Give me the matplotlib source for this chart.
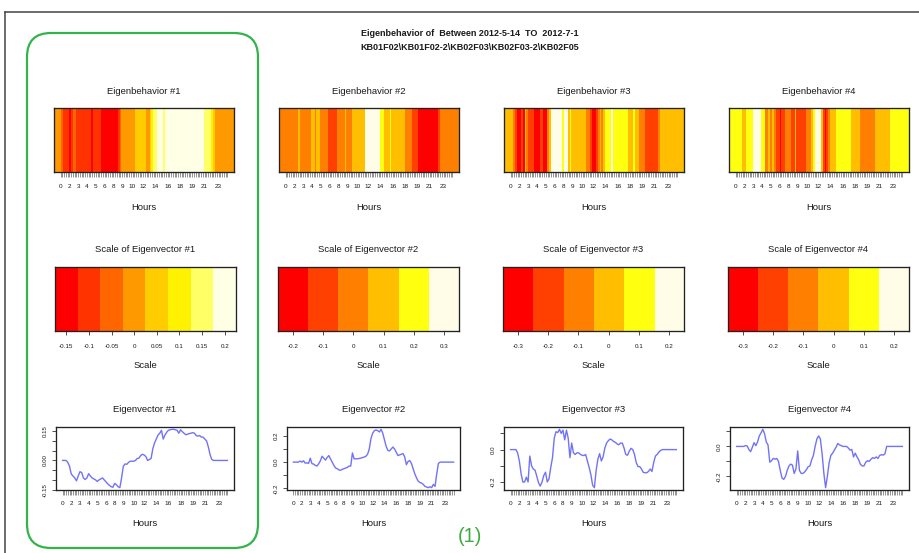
import numpy as np
import matplotlib
matplotlib.use('Agg')
import matplotlib.pyplot as plt
from matplotlib.colors import ListedColormap
from matplotlib.patches import FancyBboxPatch
from matplotlib.lines import Line2D

plt.rcParams['font.family'] = ['Liberation Sans', 'DejaVu Sans']

# ---------------- data ----------------
ev1 = [0.000, 0.000, 0.000, -0.010, -0.030, -0.070, -0.080, -0.090, -0.105, -0.080,
       -0.058, -0.062, -0.090, -0.098, -0.090, -0.068, -0.080, -0.090, -0.095, -0.100,
       -0.108, -0.100, -0.095, -0.090, -0.100, -0.110, -0.120, -0.128, -0.135, -0.138,
       -0.118, -0.125, -0.135, -0.140, -0.090, -0.030, -0.018, -0.020, -0.010, -0.004,
       -0.004, -0.004, 0.000, 0.010, 0.012, 0.025, 0.032, 0.028, 0.020, 0.000,
       0.005, 0.010, 0.060, 0.090, 0.110, 0.130, 0.140, 0.155, 0.110, 0.130,
       0.145, 0.155, 0.158, 0.160, 0.160, 0.158, 0.155, 0.140, 0.158, 0.148,
       0.140, 0.132, 0.135, 0.138, 0.140, 0.143, 0.140, 0.128, 0.125, 0.128,
       0.120, 0.120, 0.110, 0.100, 0.070, 0.030, 0.005, 0.000, 0.000, 0.000,
       0.000, 0.000, 0.000, 0.000, 0.000, 0.000]
ev2 = [0, 0, 0, 0, 0.008, 0, 0.01, -0.008, -0.005, -0.01,
       0.03, -0.012, -0.015, -0.025, -0.03, -0.012, 0.01, 0.045, 0.03, 0.015,
       0.035, 0.05, 0.025, 0, -0.025, -0.045, -0.05, -0.06, -0.062, -0.055,
       -0.05, -0.045, -0.04, -0.03, -0.03, 0.07, 0.025, 0.025, 0.025, 0.028,
       0.03, 0.035, 0.038, 0.045, 0.06, 0.1, 0.18, 0.22, 0.24, 0.245,
       0.24, 0.23, 0.25, 0.22, 0.17, 0.12, 0.09, 0.085, 0.1, 0.115,
       0.1, 0.075, 0.05, 0.055, 0.06, 0.065, 0.04, -0.02, 0.005, 0.012,
       -0.01, -0.05, -0.09, -0.12, -0.145, -0.155, -0.16, -0.17, -0.185, -0.19,
       -0.195, -0.188, -0.195, -0.17, -0.185, -0.09, -0.01, 0, 0, 0,
       0, 0, 0, 0, 0, 0]
ev3 = [0, 0, 0, 0, -0.02, -0.07, -0.15, -0.2, -0.2, -0.17,
       -0.2, -0.04, -0.1, -0.12, -0.127, -0.165, -0.205, -0.225, -0.2, -0.16,
       -0.14, -0.2, -0.18, -0.11, -0.05, 0.07, 0.11, 0.105, 0.125, 0.1,
       0.12, 0.06, 0.12, 0.07, -0.05, 0.04, -0.02, -0.03, -0.02, -0.02,
       -0.03, -0.035, -0.037, -0.03, -0.07, -0.11, -0.155, -0.22, -0.235, -0.13,
       -0.06, -0.025, -0.07, -0.045, 0.01, 0.04, 0.055, 0.065, 0.06, 0.05,
       0.045, 0.035, 0.03, 0.04, 0.04, 0.01, -0.03, -0.035, -0.01, 0.008,
       0, -0.03, -0.08, -0.105, -0.105, -0.12, -0.14, -0.143, -0.143, -0.135,
       -0.12, -0.135, -0.08, -0.04, -0.03, -0.015, -0.005, 0, 0, 0,
       0, 0, 0, 0, 0, 0]
ev4 = [0, 0, 0, 0, 0, 0.005, 0.004, -0.02, -0.035, -0.006,
       0.025, 0.005, 0.03, 0.07, 0.09, 0.114, 0.085, 0.03, 0.009, -0.105,
       -0.095, -0.08, -0.085, -0.08, -0.1, -0.16, -0.21, -0.22, -0.2, -0.16,
       -0.13, -0.118, -0.125, -0.18, -0.15, -0.03, -0.16, -0.18, -0.18, -0.17,
       -0.155, -0.135, -0.13, -0.09, -0.06, 0, 0.05, 0.07, 0.05, -0.05,
       -0.18, -0.275, -0.2, -0.11, -0.06, -0.045, -0.025, -0.005, 0.02, 0.01,
       0.005, 0, 0, 0, -0.01, -0.025, -0.02, -0.07, -0.045, -0.07,
       -0.09, -0.12, -0.13, -0.13, -0.105, -0.095, -0.1, -0.085, -0.075, -0.08,
       -0.07, -0.08, -0.06, -0.055, -0.058, -0.05, 0, 0, 0, 0,
       0, 0, 0, 0, 0, 0]
eigenvectors = [ev1, ev2, ev3, ev4]

hour_pos = [0, 5, 10, 15, 20, 25, 30, 35, 41, 47, 54, 61, 68, 75, 82, 90]
hour_txt = ['0', '2', '3', '4', '5', '6', '8', '9', '10', '12', '14', '16', '18', '19', '21', '23']

scale1 = [-0.15, -0.1, -0.05, 0, 0.05, 0.1, 0.15, 0.2]
scale1_txt = ['-0.15', '-0.1', '-0.05', '0', '0.05', '0.1', '0.15', '0.2']
scale2 = [-0.2, -0.1, 0, 0.1, 0.2, 0.3]
scale2_txt = ['-0.2', '-0.1', '0', '0.1', '0.2', '0.3']
scale34 = [-0.3, -0.2, -0.1, 0, 0.1, 0.2]
scale34_txt = ['-0.3', '-0.2', '-0.1', '0', '0.1', '0.2']
scales = [scale1, scale2, scale34, scale34]
scales_txt = [scale1_txt, scale2_txt, scale34_txt, scale34_txt]

cols8 = ['#FF0000', '#FF3300', '#FF6600', '#FF9900', '#FFCC00', '#FFF200', '#FFFF66', '#FFFFE6']
cols6 = ['#FF0000', '#FF4000', '#FF8000', '#FFBF00', '#FFFF10', '#FFFDE8']
palettes = [cols8, cols6, cols6, cols6]

ev_yticks = [[0.15, 0.10, 0.05, 0.00, -0.05, -0.10, -0.15],
             [0.2, 0.1, 0.0, -0.1, -0.2],
             [0.1, 0.0, -0.1, -0.2],
             [0.1, 0.0, -0.1, -0.2]]
ev_ylabels = [['0.15', '', '', '0.00', '', '', '-0.15'],
              ['0.2', '', '0.0', '', '-0.2'],
              ['', '0.0', '', '-0.2'],
              ['', '0.0', '', '-0.2']]

title_l1 = 'Eigenbehavior of  Between 2012-5-14  TO  2012-7-1'
title_l2 = 'KB01F02\\KB01F02-2\\KB02F03\\KB02F03-2\\KB02F05'

# ---------------- layout ----------------
W, H = 920, 553
fig = plt.figure(figsize=(W / 100, H / 100), dpi=100)
fig.patch.set_facecolor('white')

def px_axes(x0, y0, x1, y1):
    return fig.add_axes([x0 / W, 1 - y1 / H, (x1 - x0) / W, (y1 - y0) / H])

def ftext(x, y, s, **kw):
    fig.text(x / W, 1 - y / H, s, ha='center', va='center', **kw)

SPINE = '#222222'
LINEC = '#7272F8'
TFS = 6.8
TXT = '#1a1a1a'

def style_box(ax):
    for s in ax.spines.values():
        s.set_linewidth(0.95)
        s.set_color(SPINE)

N = len(ev1)
idx = np.arange(N)
xlo, xhi = -0.04 * (N - 1), (N - 1) * 1.04
hour_labels = [''] * N
for p, t in zip(hour_pos, hour_txt):
    hour_labels[p] = t

def hour_axis(ax, pad):
    ax.set_xticks(idx)
    ax.set_xticklabels(hour_labels, fontsize=4.6, color=TXT)
    ax.tick_params(axis='x', length=3.5, width=0.55, color='#777', pad=pad)
    ax.set_xlim(xlo, xhi)

heat_x = [54, 279, 504, 729]
scale_x = [55, 278, 503, 728]
line_x = [(56, 234), (287, 460), (504, 683), (730, 909)]

for k in range(4):
    vals = np.array(eigenvectors[k])
    cmap = ListedColormap(palettes[k])

    # ---- Eigenbehavior heatmap ----
    x0 = heat_x[k]
    ax = px_axes(x0, 108, x0 + 180, 172)
    ax.imshow(vals[np.newaxis, :], cmap=cmap, vmin=vals.min(), vmax=vals.max(),
              aspect='auto', extent=(xlo, xhi, 0, 1), interpolation='nearest')
    ax.set_ylim(0, 1)
    ax.set_yticks([])
    hour_axis(ax, 5.0)
    style_box(ax)
    cx = x0 + 90
    ftext(cx, 92, 'Eigenbehavior #%d' % (k + 1), fontsize=TFS, color=TXT)
    ftext(cx, 207, 'Hours', fontsize=TFS, color=TXT)

    # ---- Scale bar ----
    sc = scales[k]
    step = sc[1] - sc[0]
    x0 = scale_x[k]
    ax = px_axes(x0, 267, x0 + 181, 331)
    ax.imshow(np.arange(len(sc))[np.newaxis, :], cmap=cmap, vmin=-0.5, vmax=len(sc) - 0.5,
              aspect='auto', extent=(sc[0] - step / 2, sc[-1] + step / 2, 0, 1),
              interpolation='nearest')
    ax.set_xlim(sc[0] - step / 2, sc[-1] + step / 2)
    ax.set_ylim(0, 1)
    ax.set_yticks([])
    ax.set_xticks(sc)
    ax.set_xticklabels(scales_txt[k], fontsize=4.5, color=TXT)
    ax.tick_params(axis='x', length=3.0, width=0.6, color='#333', pad=6.0)
    style_box(ax)
    cx = x0 + 90.5
    ftext(cx, 250, 'Scale of Eigenvector #%d' % (k + 1), fontsize=TFS, color=TXT)
    ftext(cx, 366, 'Scale', fontsize=TFS, color=TXT)

    # ---- Eigenvector line ----
    lx0, lx1 = line_x[k]
    ax = px_axes(lx0, 427, lx1, 490)
    ax.plot(idx, vals, color=LINEC, lw=1.0)
    r = vals.max() - vals.min()
    ax.set_ylim(vals.min() - 0.04 * r, vals.max() + 0.04 * r)
    hour_axis(ax, 4.4)
    ax.set_yticks(ev_yticks[k])
    ax.set_yticklabels(ev_ylabels[k], fontsize=4.4, rotation=90, va='center', color=TXT)
    ax.tick_params(axis='y', length=3.0, width=0.6, color='#333', pad=3.2)
    style_box(ax)
    cx = (lx0 + lx1) / 2
    ftext(cx, 410, 'Eigenvector #%d' % (k + 1), fontsize=TFS, color=TXT)
    ftext(cx, 524, 'Hours', fontsize=TFS, color=TXT)

# ---- main title ----
ftext(470, 33, title_l1, fontsize=6.5, fontweight='bold', color=TXT)
ftext(470, 48, title_l2, fontsize=6.5, fontweight='bold', color=TXT)

# ---- overlay (frame, highlight box, label) ----
ov = fig.add_axes([0, 0, 1, 1], zorder=10)
ov.set_xlim(0, W)
ov.set_ylim(H, 0)
ov.set_facecolor('none')
ov.axis('off')
ov.add_line(Line2D([5, W], [12, 12], color='#444444', lw=1.1))
ov.add_line(Line2D([5, 5], [12, H], color='#444444', lw=1.1))
ov.add_patch(FancyBboxPatch((27, 33), 231, 515,
                            boxstyle='round,pad=0,rounding_size=24',
                            fill=False, edgecolor='#33B44A', lw=1.6))
ov.text(470, 536, '(1)', fontsize=14.5, color='#3DAA3D', ha='center', va='center')

fig.savefig('out.png', dpi=100, facecolor='white')
